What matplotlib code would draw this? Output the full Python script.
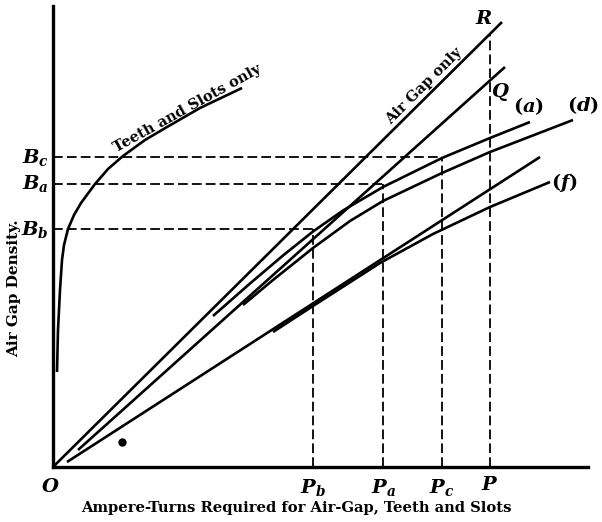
import matplotlib.pyplot as plt
import numpy as np

plt.rcParams['mathtext.fontset'] = 'custom'
plt.rcParams['mathtext.it'] = 'DejaVu Serif:italic:bold'
plt.rcParams['mathtext.rm'] = 'DejaVu Serif:bold'
plt.rcParams['lines.scale_dashes'] = False

# straight line O-R, air gap only
air_x = [0, 449]
air_y = [0, 445]
# straight line to Q
q_x = [25, 452]
q_y = [17, 400]
# lower straight line
low_x = [14, 487]
low_y = [5, 310]
# teeth and slots only
teeth_x = [4, 5, 7, 9, 11, 15, 21, 28, 42, 55, 70, 92, 114, 147, 189]
teeth_y = [95, 137, 177, 207, 222, 238, 252, 264, 283, 298, 311, 327, 340, 359, 379]
# curve (a)
a_x = [160, 197, 230, 260, 290, 330, 389, 437, 477]
a_y = [151, 183.5, 211.5, 235.5, 256.5, 280, 309, 329, 345]
# curve (d)
d_x = [190, 220, 260, 297, 330, 389, 437, 520]
d_y = [162, 187, 219, 246, 266, 294, 315, 347]
# curve (f)
f_x = [220, 260, 327, 380, 437, 497]
f_y = [135, 161, 204, 233, 260, 285]

# operating points
B_levels = [310, 283, 238]
B_names = ['$B_c$', '$B_a$', '$B_b$']
P_pos = [389, 330, 260]
P_names = ['$P_c$', '$P_a$', '$P_b$']
P_main = 437

fig = plt.figure(figsize=(6.02, 5.22), dpi=100)
ax = fig.add_axes([53/602, 55/522, 535/602, 461/522])
ax.set_xlim(0, 535)
ax.set_ylim(0, 461)
ax.set_xticks([])
ax.set_yticks([])
ax.spines['top'].set_visible(False)
ax.spines['right'].set_visible(False)
ax.spines['left'].set_linewidth(2.4)
ax.spines['bottom'].set_linewidth(2.4)

lw = 1.9
for xs, ys in [(air_x, air_y), (q_x, q_y), (low_x, low_y), (teeth_x, teeth_y),
               (a_x, a_y), (d_x, d_y), (f_x, f_y)]:
    ax.plot(xs, ys, color='black', lw=lw, solid_capstyle='butt',
            solid_joinstyle='round', clip_on=False)

dash = (0, (7, 3))
for b, p in zip(B_levels, P_pos):
    ax.plot([0, p], [b, b], color='black', lw=1.3, ls=dash)
    ax.plot([p, p], [0, b], color='black', lw=1.3, ls=dash)
# P up to the air gap line
r_top = np.interp(P_main, air_x, air_y)
ax.plot([P_main, P_main], [0, r_top], color='black', lw=1.3, ls=dash)

# ink blot
ax.plot([69], [25], 'o', color='black', ms=5)

mfs = 14
for b, name in zip(B_levels, B_names):
    ax.text(-4, b, name, ha='right', va='center', fontsize=mfs, clip_on=False)
for p, name in zip(P_pos, P_names):
    ax.text(p, -20, name, ha='center', va='center', fontsize=mfs, clip_on=False)
ax.text(P_main, -18, '$P$', ha='center', va='center', fontsize=mfs, clip_on=False)
ax.text(-3, -20, '$O$', ha='center', va='center', fontsize=mfs, clip_on=False)

ax.text(431, 448, '$R$', ha='center', va='center', fontsize=mfs, clip_on=False)
ax.text(447, 375, '$Q$', ha='center', va='center', fontsize=mfs, clip_on=False)
ax.text(476, 361, '$(a)$', ha='center', va='center', fontsize=mfs, clip_on=False)
ax.text(546, 362, '$(d)$', ha='right', va='center', fontsize=mfs, clip_on=False)
ax.text(511, 284, '$(f)$', ha='center', va='center', fontsize=mfs, clip_on=False)

font = dict(family='DejaVu Serif', weight='bold')
ax.text(371, 381, 'Air Gap only', rotation=45, ha='center', va='center',
        rotation_mode='anchor', fontsize=10.5, **font)
ax.text(134, 359, 'Teeth and Slots only', rotation=29, ha='center', va='center',
        rotation_mode='anchor', fontsize=10.5, **font)
ax.text(-39, 179, 'Air Gap Density.', rotation=90, ha='center', va='center',
        clip_on=False, fontsize=11, **font)
ax.text(243, -41, 'Ampere-Turns Required for Air-Gap, Teeth and Slots',
        ha='center', va='center', clip_on=False, fontsize=10.6, **font)

fig.savefig('out.png', dpi=100)
